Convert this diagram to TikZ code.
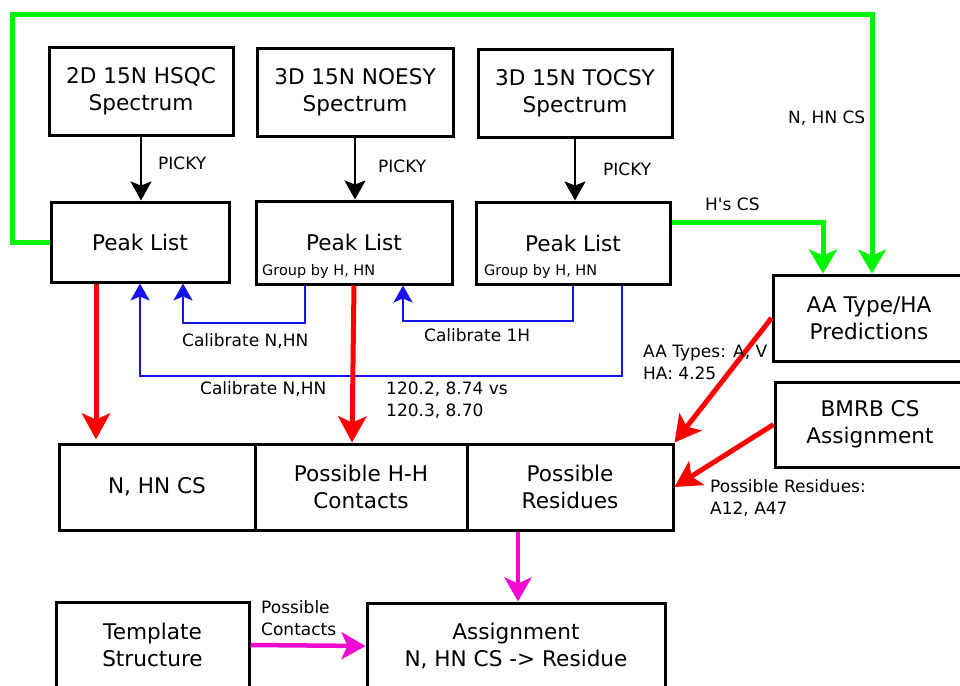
\documentclass[tikz,border=0pt]{standalone}
\usepackage{fontspec}
\setmainfont{DejaVu Sans}
\usetikzlibrary{arrows.meta}
\definecolor{csgreen}{RGB}{0,245,0}
\definecolor{fitred}{RGB}{255,0,0}
\definecolor{calblue}{RGB}{20,20,240}
\definecolor{asspink}{RGB}{240,10,210}

\begin{document}
\begin{tikzpicture}[x=1pt, y=-1pt, line join=miter,
	box/.style={draw, line width=3pt, rectangle, align=center, inner sep=0pt, minimum height=86pt, font=\fontsize{21.6}{27}\selectfont},
	lbl/.style={anchor=west, inner sep=0pt, align=left, font=\fontsize{17}{22}\selectfont},
	grp/.style={anchor=west, inner sep=0pt, font=\fontsize{14.5}{17}\selectfont},
	pick/.style={-{Stealth[length=19pt, width=21pt, inset=4pt]}, line width=2.2pt},
	calib/.style={calblue, -{Stealth[length=17pt, width=19pt, inset=4pt]}, line width=2.6pt},
	csline/.style={csgreen, -{Stealth[length=24pt, width=28pt, inset=6pt]}, line width=5pt},
	feed/.style={fitred, -{Stealth[length=26pt, width=28pt, inset=6pt]}, line width=5pt},
	final/.style={asspink, -{Stealth[length=24pt, width=27pt, inset=6pt]}, line width=4.5pt}]

	\useasboundingbox (0,0) rectangle (960,685);

	% Spectra
	\node[box, minimum width=184pt, minimum height=87pt] (hsqc) at (141,91.5) {2D 15N HSQC\\Spectrum};
	\node[box, minimum width=196pt, minimum height=87pt] (noesy) at (355,92.5) {3D 15N NOESY\\Spectrum};
	\node[box, minimum width=194pt, minimum height=87pt] (tocsy) at (575,93.5) {3D 15N TOCSY\\Spectrum};

	% Peak lists
	\node[box, minimum width=178pt, minimum height=80pt] (pl1) at (140,242) {Peak List};
	\node[box, minimum width=196pt, minimum height=83pt] (pl2) at (354,242.5) {Peak List};
	\node[box, minimum width=194pt, minimum height=82pt] (pl3) at (573,243) {Peak List};
	\node[grp] (grp2) at (262,271) {Group by H, HN};
	\node[grp] (grp3) at (484,271) {Group by H, HN};

	\draw[pick] (hsqc.south) -- (hsqc.south |- pl1.north);
	\draw[pick] (noesy.south) -- (noesy.south |- pl2.north);
	\draw[pick] (tocsy.south) -- (tocsy.south |- pl3.north);
	\node[lbl] (picky1) at (158,163) {PICKY};
	\node[lbl] (picky2) at (378,166) {PICKY};
	\node[lbl] (picky3) at (603,169) {PICKY};

	% Predictions and BMRB
	\node[box, minimum width=192pt] (aa) at (869,318) {AA Type/HA\\Predictions};
	\node[box, minimum width=190pt, minimum height=85pt] (bmrb) at (870,424.5) {BMRB CS\\Assignment};

	\draw[csline] (pl1.west) -| (12,15) -| ([xshift=3pt]aa.north);
	\draw[csline] (pl3.east |- 0,222) -| ([xshift=-46pt]aa.north);
	\node[lbl] (nhnlbl) at (788,118) {N, HN CS};
	\node[lbl] (hslbl) at (705,204) {H\textquotesingle s CS};

	% Calibration
	\draw[calib] (pl2.south -| 305,0) |- (183,323) -- (pl1.south -| 183,0);
	\draw[calib] (pl3.south -| 573,0) |- (403,321) -- (pl2.south -| 403,0);
	\draw[calib] (pl3.south -| 622,0) |- (140,376) -- (pl1.south -| 140,0);
	\node[lbl] (cal1) at (182,341) {Calibrate N,HN};
	\node[lbl] (cal2) at (424,335) {Calibrate 1H};
	\node[lbl] (cal3) at (200,389) {Calibrate N,HN};

	% Results
	\node[box, minimum width=196pt] (nhn) at (157,487) {N, HN CS};
	\node[box, minimum width=212pt] (hh) at (361,487) {Possible H-H\\Contacts};
	\node[box, minimum width=206pt] (res) at (570,487) {Possible\\Residues};

	\draw[feed, shorten >=3pt] (pl1.south -| 96,0) -- (nhn.north -| 96,0);
	\draw[feed] (pl2.south -| 354,0) -- (hh.north -| 352,0);
	\draw[feed] (aa.west) -- (res.north east);
	\draw[feed] (bmrb.west) -- (res.east);
	\node[lbl] (shift) at (386,400) {120.2, 8.74 vs\\120.3, 8.70};
	\node[lbl] (types) at (643,362) {AA Types: A, V\\HA: 4.25};
	\node[lbl] (resid) at (710,498) {Possible Residues:\\A12, A47};

	% Assignment
	\node[box, minimum width=193pt] (templ) at (152.5,645) {Template\\Structure};
	\node[box, minimum width=298pt] (assign) at (516,646) {Assignment\\N, HN CS -> Residue};

	\draw[final] (res.south -| 518,0) -- (assign.north -| 518,0);
	\draw[final] (templ.east) -- (assign.west);
	\node[lbl] (contacts) at (261,618) {Possible\\Contacts};

\end{tikzpicture}
\end{document}
